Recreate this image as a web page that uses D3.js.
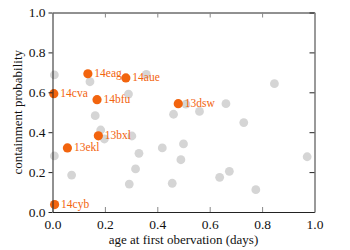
<!DOCTYPE html>
<html>
<head>
<meta charset="utf-8">
<script src="https://cdn.jsdelivr.net/npm/d3@7"></script>
<style>
body { margin: 0; background: #fff; }
svg text { font-family: "Liberation Serif", "DejaVu Serif", serif; }
</style>
</head>
<body>
<script>
// grey background events
var greyX = [0.007, 0.143, 0.358, 0.29, 0.163, 0.462, 0.847, 0.509, 0.662, 0.561, 0.73,
             0.184, 0.198, 0.303, 0.007, 0.33, 0.419, 0.317, 0.073, 0.293, 0.457,
             0.50, 0.49, 0.638, 0.675, 0.776, 0.972];
var greyY = [0.687, 0.653, 0.69, 0.591, 0.483, 0.49, 0.643, 0.541, 0.543, 0.504, 0.448,
             0.411, 0.366, 0.381, 0.281, 0.294, 0.321, 0.216, 0.185, 0.140, 0.144,
             0.341, 0.262, 0.174, 0.204, 0.112, 0.277];

// highlighted events
var names = ["14cva", "14eag", "14aue", "14bfu", "13dsw", "13bxl", "13ekl", "14cyb"];
var hiX = [0.005, 0.135, 0.28, 0.170, 0.480, 0.175, 0.057, 0.008];
var hiY = [0.593, 0.693, 0.672, 0.563, 0.543, 0.382, 0.321, 0.037];

var ticks = [0, 0.2, 0.4, 0.6, 0.8, 1.0];

var W = 350, H = 250;
var m = {left: 52.5, right: 35.5, top: 12.5, bottom: 38};
var w = W - m.left - m.right, h = H - m.top - m.bottom;

var svg = d3.select("body").append("svg")
    .attr("width", W)
    .attr("height", H);

var x = d3.scaleLinear().domain([0, 1]).range([0, w]);
var y = d3.scaleLinear().domain([0, 1]).range([h, 0]);

var g = svg.append("g").attr("transform", "translate(" + m.left + "," + m.top + ")");

var fmt = d3.format(".1f");

// points
g.selectAll(".grey").data(greyX).enter().append("circle")
    .attr("class", "grey")
    .attr("cx", function(d) { return x(d); })
    .attr("cy", function(d, i) { return y(greyY[i]); })
    .attr("r", 4.4)
    .attr("fill", "#d5d5d5");

g.selectAll(".hi").data(hiX).enter().append("circle")
    .attr("class", "hi")
    .attr("cx", function(d) { return x(d); })
    .attr("cy", function(d, i) { return y(hiY[i]); })
    .attr("r", 4.6)
    .attr("fill", "#f2640e");

g.selectAll(".lbl").data(names).enter().append("text")
    .attr("class", "lbl")
    .attr("x", function(d, i) { return x(hiX[i]) + 6.5; })
    .attr("y", function(d, i) { return y(hiY[i]) + 3; })
    .attr("font-size", 11.5)
    .attr("fill", "#f2640e")
    .text(function(d) { return d; });

// axes
var axBottom = g.append("g").attr("transform", "translate(0," + h + ")")
    .call(d3.axisBottom(x).tickValues(ticks).tickFormat(fmt).tickSizeInner(-5).tickSizeOuter(0).tickPadding(7));
var axLeft = g.append("g")
    .call(d3.axisLeft(y).tickValues(ticks).tickFormat(fmt).tickSizeInner(4).tickSizeOuter(0).tickPadding(3));
var axTop = g.append("g")
    .call(d3.axisTop(x).tickValues(ticks).tickFormat("").tickSizeInner(-5).tickSizeOuter(0));
var axRight = g.append("g").attr("transform", "translate(" + w + ",0)")
    .call(d3.axisRight(y).tickValues(ticks).tickFormat("").tickSizeInner(-5).tickSizeOuter(0));

[axBottom, axLeft, axTop, axRight].forEach(function(a) {
    a.attr("font-family", null);
    a.selectAll("text")
        .style("font-family", "'Liberation Serif', serif")
        .attr("font-size", 13.5)
        .attr("fill", "#111");
    a.select(".domain").attr("stroke", "#222");
});
axBottom.selectAll(".tick line").attr("stroke", "#888");
axTop.selectAll(".tick line").attr("stroke", "#888");
axLeft.selectAll(".tick line").attr("stroke", "#222");
axRight.selectAll(".tick line").attr("stroke", "#222");
axRight.select(".domain").attr("stroke", "#999").attr("stroke-width", 2);

svg.append("text")
    .attr("x", m.left + w / 2)
    .attr("y", H - 6)
    .attr("text-anchor", "middle")
    .attr("font-size", 13)
    .attr("fill", "#111")
    .text("age at first obervation (days)");

svg.append("text")
    .attr("transform", "translate(22," + (m.top + h / 2) + ") rotate(-90)")
    .attr("text-anchor", "middle")
    .attr("font-size", 13)
    .attr("fill", "#111")
    .text("containment probability");
</script>
</body>
</html>
